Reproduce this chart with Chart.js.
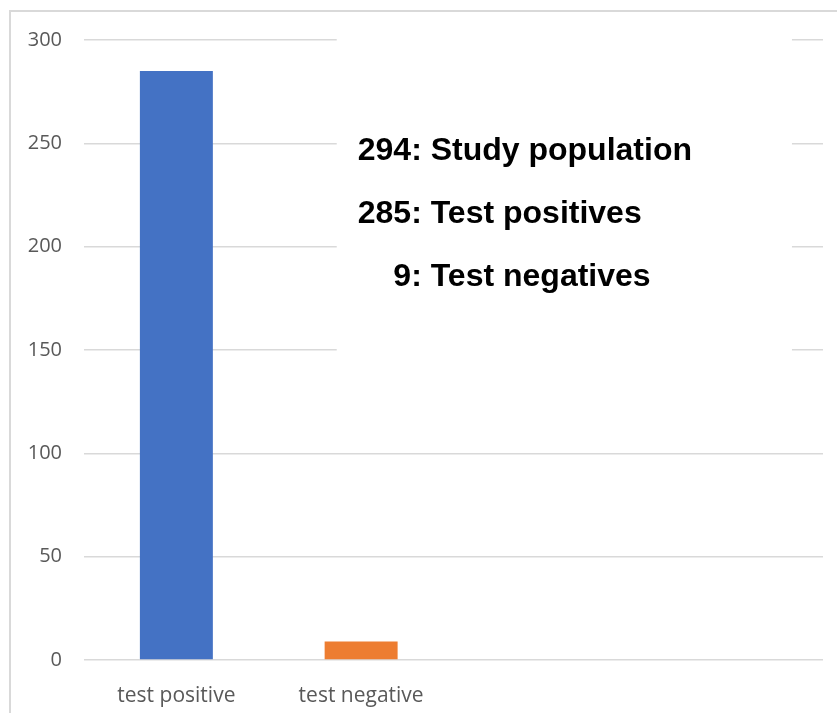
<!DOCTYPE html>
<html>
    <head>
        <meta charset="utf-8">
        <title>Test results</title>
        <script src="https://cdnjs.cloudflare.com/ajax/libs/Chart.js/4.4.1/chart.umd.min.js"></script>
        <style>
            body { margin: 0; overflow: hidden; background: #fff; }
            #frame {
                position: absolute; left: 9px; top: 10px;
                width: 900px; height: 800px;
                border: 2px solid #d9d9d9;
            }
            #chart { position: absolute; left: 0; top: 0; }
        </style>
    </head>
    <body>
        <div id="frame"></div>
        <canvas id="chart" width="837" height="713"></canvas>
        <script>
            // categories (two empty slots on the right, as in the original sheet)
            const categories = ["test positive", "test negative", "", ""];
            // counts per category
            const counts = [285, 9, null, null];
            const barColors = ["#4472C4", "#ED7D31", "#4472C4", "#4472C4"];
            // y axis ticks
            const yTicks = [0, 50, 100, 150, 200, 250, 300];

            // the text box over the plot
            const noteNumbers = ["294", "285", "9"];
            const noteLabels = ["Study population", "Test positives", "Test negatives"];

            // white box with the three summary lines
            const notePlugin = {
                id: "note",
                afterDatasetsDraw(chart) {
                    const ctx = chart.ctx;
                    const area = chart.chartArea;
                    const y = chart.scales.y;
                    const w = area.right - area.left;
                    const left = area.left + w * 0.342;
                    const right = area.left + w * 0.958;
                    const top = y.getPixelForValue(305);
                    const bottom = y.getPixelForValue(143);
                    ctx.save();
                    ctx.fillStyle = "#ffffff";
                    ctx.fillRect(left, top, right - left, bottom - top);

                    ctx.font = "bold 32px 'Liberation Sans', Arial, sans-serif";
                    ctx.fillStyle = "#000000";
                    ctx.textBaseline = "alphabetic";
                    const colonX = left + 21 + ctx.measureText("294").width;
                    for (let i = 0; i < noteNumbers.length; i++) {
                        const base = top + 130 + i * 63;
                        ctx.textAlign = "right";
                        ctx.fillText(noteNumbers[i], colonX, base);
                        ctx.textAlign = "left";
                        ctx.fillText(": " + noteLabels[i], colonX, base);
                    }
                    ctx.restore();
                }
            };

            const config = {
                type: "bar",
                data: {
                    labels: categories,
                    datasets: [{
                        data: counts,
                        backgroundColor: barColors,
                        barPercentage: 0.395,
                        categoryPercentage: 1
                    }]
                },
                options: {
                    responsive: false,
                    animation: false,
                    layout: { padding: { top: 40, right: 14, bottom: 0, left: 0 } },
                    plugins: {
                        legend: { display: false },
                        tooltip: { enabled: false }
                    },
                    scales: {
                        x: {
                            grid: { display: false },
                            border: { display: false },
                            ticks: {
                                color: "#595959",
                                font: { family: "'Open Sans'", size: 21 },
                                padding: 15,
                                maxRotation: 0
                            },
                            afterFit(scale) { scale.height = 53; }
                        },
                        y: {
                            min: 0,
                            max: 300,
                            afterBuildTicks(scale) {
                                scale.ticks = yTicks.map(v => ({ value: v }));
                            },
                            grid: { color: "#d9d9d9", lineWidth: 1.5, drawTicks: false },
                            border: { display: false },
                            ticks: {
                                color: "#595959",
                                font: { family: "'Open Sans'", size: 20 },
                                padding: 22
                            },
                            afterFit(scale) { scale.width = 84; }
                        }
                    }
                },
                plugins: [notePlugin]
            };

            new Chart(document.getElementById("chart").getContext("2d"), config);
        </script>
    </body>
</html>
